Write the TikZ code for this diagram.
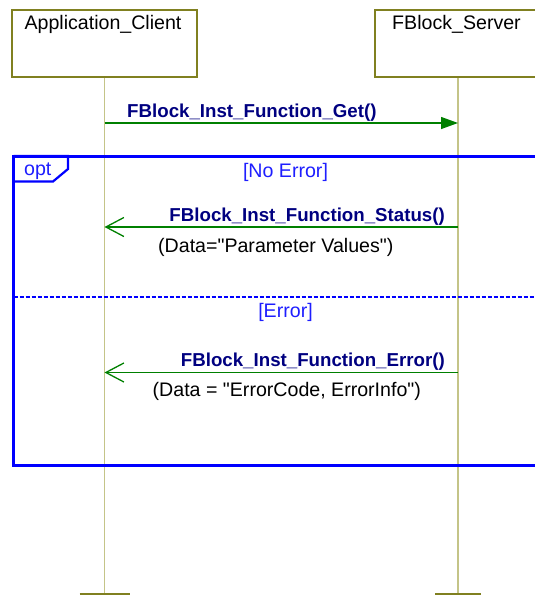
\documentclass[tikz,border=0pt]{standalone}
\usepackage{fontspec}
\setmainfont{Liberation Sans}[Ligatures=TeXOff]
\usetikzlibrary{arrows.meta}
\definecolor{boxolive}{RGB}{128,128,32}
\definecolor{lifekhaki}{RGB}{196,196,136}
\definecolor{msggreen}{RGB}{0,128,0}
\definecolor{msgnavy}{RGB}{0,0,128}
\definecolor{frameblue}{RGB}{0,0,255}
\definecolor{guardblue}{RGB}{30,30,255}
\tikzset{
  actorbox/.style={draw=boxolive, line width=1.5pt, fill=white, inner sep=0pt},
  txt/.style={inner sep=0pt, font=\fontsize{19.6}{23}\selectfont},
  msglabel/.style={txt, text=msgnavy, font=\fontsize{18.7}{22}\selectfont\bfseries},
  guard/.style={txt, text=guardblue},
  lifeline/.style={draw=lifekhaki, line width=1.6pt},
  endbar/.style={draw=boxolive, line width=3pt},
  msg/.style={draw=msggreen, line width=1.3pt},
  syncarrow/.style={msg, -{Triangle[length=17pt, width=12pt, fill=msggreen]}},
  replyarrow/.style={msg, -{Straight Barb[length=18pt, width=19pt, line width=1.3pt]}},
  frameline/.style={draw=frameblue, line width=3pt},
  tabline/.style={draw=frameblue, line width=2.2pt},
  divider/.style={draw=frameblue, line width=1.2pt, dash pattern=on 4pt off 2pt}
}
\begin{document}
\begin{tikzpicture}[x=1pt, y=-1pt]
\useasboundingbox (0,0) rectangle (535,595);
\clip (0,0) rectangle (535,595);
% actors
\node[actorbox, minimum width=185pt, minimum height=67pt] (client) at (104.5,43.5) {};
\node[actorbox, minimum width=166pt, minimum height=67pt] (server) at (458,43.5) {};
\node[txt, anchor=base] (clientlbl) at (103,29) {Application\_Client};
\node[txt, anchor=base] (serverlbl) at (456.5,29) {FBlock\_Server};
% lifelines
\coordinate (cend) at (104.5,594.5);
\coordinate (send) at (458,594.5);
\draw[lifeline] (client.south) -- (cend);
\draw[lifeline] (server.south) -- (send);
\draw[endbar] (cend) ++(-25,0) -- ++(50,0);
\draw[endbar] (send) ++(-23,0) -- ++(46,0);
% get message
\coordinate (cGet) at (104.5,123);
\coordinate (sGet) at (458,123);
\draw[syncarrow] (cGet) -- (sGet);
\node[msglabel, anchor=base west] (getlbl) at (127,117) {FBlock\_Inst\_Function\_Get()};
% opt frame
\draw[frameline] (13.5,156) rectangle (560,465);
\draw[tabline] (13.5,156) -- (68,156) -- (68,169) -- (53,181.5) -- (13.5,181.5);
\node[guard, anchor=base west] (optlbl) at (24,175.5) {opt};
\node[guard, anchor=base] (noerr) at (285.5,177) {[No Error]};
% status reply
\coordinate (sStat) at (458,227);
\coordinate (cStat) at (104.5,227);
\draw[replyarrow] (sStat) -- (cStat);
\node[msglabel, anchor=base east] (statlbl) at (445,221.5) {FBlock\_Inst\_Function\_Status()};
\node[txt, anchor=base west] (statdata) at (158,252.5) {(Data="Parameter Values")};
% divider
\draw[divider] (13.5,297) -- (535,297);
\node[guard, anchor=base] (errguard) at (285.5,317.5) {[Error]};
% error reply
\coordinate (sErr) at (458,372.5);
\coordinate (cErr) at (104.5,372.5);
\draw[replyarrow] (sErr) -- (cErr);
\node[msglabel, anchor=base east] (errlbl) at (445,366.5) {FBlock\_Inst\_Function\_Error()};
\node[txt, anchor=base west] (errdata) at (152.5,396.5) {(Data = "ErrorCode, ErrorInfo")};
\end{tikzpicture}
\end{document}
